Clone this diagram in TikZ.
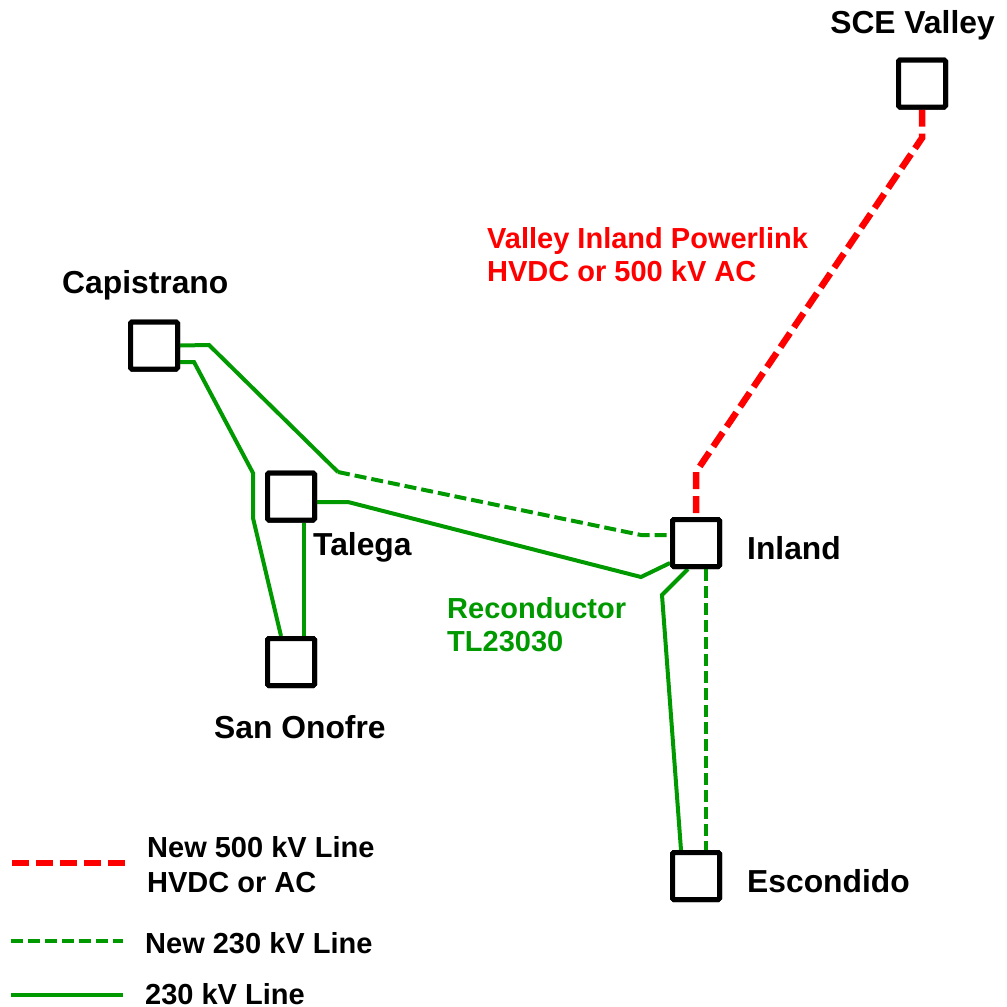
\documentclass[tikz,border=0pt]{standalone}
\usepackage{fontspec}
\setmainfont{Liberation Sans}
\definecolor{lgreen}{RGB}{0,153,0}
\definecolor{lred}{RGB}{255,0,0}
\begin{document}
\begin{tikzpicture}[x=1pt,y=-1pt,
  sub/.style={draw=black,line width=5pt,inner sep=0pt,minimum size=47pt,rounded corners=1.5pt,fill=white},
  lbl/.style={anchor=base west,inner sep=0pt,font=\fontsize{29}{33}\selectfont\bfseries},
  slbl/.style={anchor=base west,inner sep=0pt,font=\fontsize{31.8}{36}\selectfont\bfseries},
  ln/.style={draw=lgreen,line width=4pt},
  newln/.style={draw=lgreen,line width=4pt,dash pattern=on 12pt off 5pt},
  hv/.style={draw=lred,line width=6.5pt,dash pattern=on 17pt off 7pt}]
\useasboundingbox (0,0) rectangle (1007,1007);
% substations
\node[sub] (cap) at (154,345.5) {};
\node[sub] (tal) at (291,496.5) {};
\node[sub] (son) at (291,662) {};
\node[sub] (inl) at (696,543) {};
\node[sub] (esc) at (696,876) {};
\node[sub] (sce) at (922,83.5) {};
% bend points
\coordinate (c1) at (209,345);
\coordinate (c2) at (338,472);
\coordinate (c3) at (641,535);
\coordinate (c4) at (194,362);
\coordinate (c5) at (253,473);
\coordinate (c6) at (253,518);
\coordinate (t1) at (348,502);
\coordinate (t2) at (641,577);
\coordinate (e1) at (662,595);
\coordinate (r1) at (922,138);
\coordinate (r2) at (696,472);
% lines
\draw[ln] (cap.east) -- (c1) -- (c2);
\draw[newln] (c2) -- (c3) -- ([yshift=8pt]inl.west);
\draw[ln] ([yshift=-16.5pt]cap.east) -- (c4) -- (c5) -- (c6) -- ([xshift=-10pt]son.north);
\draw[ln] ([xshift=13pt]tal.south) -- ([xshift=13pt]son.north);
\draw[ln] ([yshift=-5.5pt]tal.east) -- (t1) -- (t2) -- ([yshift=-20pt]inl.west);
\draw[ln] ([xshift=-8pt]inl.south) -- (e1) -- ([xshift=-15pt]esc.north);
\draw[newln] ([xshift=10pt]inl.south) -- ([xshift=10pt]esc.north);
\draw[hv] (sce.south) -- (r1) -- (r2) -- (inl.north);
% redraw boxes on top
\node[sub] at (cap) {};
\node[sub] at (tal) {};
\node[sub] at (son) {};
\node[sub] at (inl) {};
\node[sub] at (esc) {};
\node[sub] at (sce) {};
% labels
\node[slbl,anchor=base] (lsce) at (912.5,33) {SCE Valley};
\node[lbl,text=lred] (lvip) at (487,248) {Valley Inland Powerlink};
\node[lbl,text=lred] (lvip2) at (487,281) {HVDC or 500 kV AC};
\node[slbl] (lcap) at (62,293.5) {Capistrano};
\node[slbl] (ltal) at (313,555) {Talega};
\node[slbl] (linl) at (747,559) {Inland};
\node[lbl,text=lgreen] (lrec) at (447,618) {Reconductor};
\node[lbl,text=lgreen] (lrec2) at (447,651) {TL23030};
\node[slbl] (lson) at (214,738) {San Onofre};
\node[slbl] (lesc) at (747,892) {Escondido};
% legend
\coordinate (g1a) at (12,863); \coordinate (g1b) at (125,863);
\coordinate (g2a) at (11,941); \coordinate (g2b) at (123,941);
\coordinate (g3a) at (11,995); \coordinate (g3b) at (123,995);
\draw[hv] (g1a) -- (g1b);
\draw[newln] (g2a) -- (g2b);
\draw[ln] (g3a) -- (g3b);
\node[lbl] (leg1) at (147,857) {New 500 kV Line};
\node[lbl] (leg1b) at (147,892) {HVDC or AC};
\node[lbl] (leg2) at (145,953) {New 230 kV Line};
\node[lbl] (leg3) at (145,1004) {230 kV Line};
\end{tikzpicture}
\end{document}
